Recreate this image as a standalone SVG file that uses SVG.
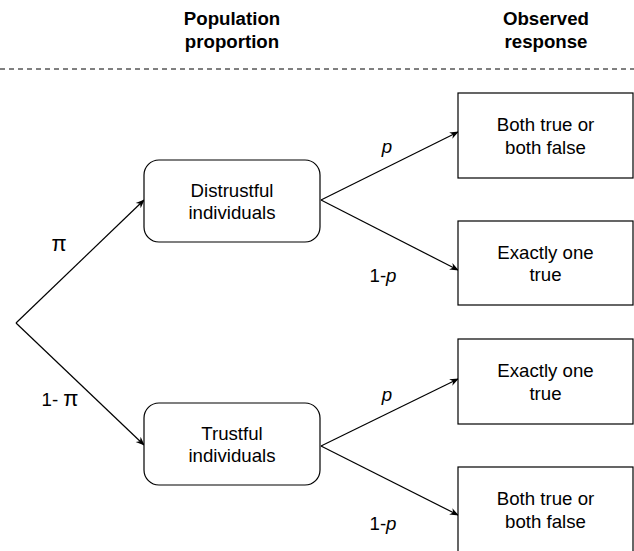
<svg xmlns="http://www.w3.org/2000/svg" width="634" height="551" viewBox="0 0 634 551">
<defs>
<marker id="ah" viewBox="0 0 10 10" refX="9" refY="5" markerWidth="9" markerHeight="9" orient="auto" markerUnits="userSpaceOnUse">
<path d="M0,1 L10,5 L0,9 L3,5 Z" fill="#000"/>
</marker>
</defs>
<style>
text{font-family:"Liberation Sans",Arial,sans-serif;font-size:18.67px;fill:#000;text-anchor:middle}
.h{font-weight:bold}
.n{fill:#fff;stroke:#000;stroke-width:1.2}
.c{stroke:#000;stroke-width:1.2;fill:none;marker-end:url(#ah)}
.i{font-style:italic}
.pi{font-size:22px}
</style>
<rect width="634" height="551" fill="#fff"/>
<g id="header">
<text class="h" x="232" y="25">Population</text>
<text class="h" x="232" y="47.5">proportion</text>
<text class="h" x="546" y="25">Observed</text>
<text class="h" x="546" y="47.5">response</text>
<line x1="0" y1="69" x2="634" y2="69" stroke="#000" stroke-width="1" stroke-dasharray="5 4"/>
</g>
<g id="connectors">
<path class="c" d="M16,323 L144,200"/>
<path class="c" d="M16,323 L144,445"/>
<path class="c" d="M321,200 L458,132"/>
<path class="c" d="M321,200 L458,270"/>
<path class="c" d="M321,446 L458,379"/>
<path class="c" d="M321,446 L458,515"/>
<text class="pi" x="59" y="251">π</text>
<text x="60" y="406">1- <tspan class="pi">π</tspan></text>
<text class="i" x="387" y="153">p</text>
<text x="383" y="282">1-<tspan class="i">p</tspan></text>
<text class="i" x="387" y="401">p</text>
<text x="383" y="530">1-<tspan class="i">p</tspan></text>
</g>
<g id="distrustful">
<rect class="n" x="144" y="160" width="176" height="82" rx="15"/>
<text x="232" y="196.5">Distrustful</text>
<text x="232" y="219">individuals</text>
</g>
<g id="trustful">
<rect class="n" x="144" y="403" width="176" height="82" rx="15"/>
<text x="232" y="439.5">Trustful</text>
<text x="232" y="462">individuals</text>
</g>
<g id="r1">
<rect class="n" x="458" y="93" width="175" height="85"/>
<text x="545.5" y="131">Both true or</text>
<text x="545.5" y="153.5">both false</text>
</g>
<g id="r2">
<rect class="n" x="458" y="221" width="175" height="84"/>
<text x="545.5" y="258.5">Exactly one</text>
<text x="545.5" y="281">true</text>
</g>
<g id="r3">
<rect class="n" x="458" y="339" width="175" height="85"/>
<text x="545.5" y="377">Exactly one</text>
<text x="545.5" y="399.5">true</text>
</g>
<g id="r4">
<rect class="n" x="458" y="467" width="175" height="90"/>
<text x="545.5" y="505">Both true or</text>
<text x="545.5" y="527.5">both false</text>
</g>
</svg>
